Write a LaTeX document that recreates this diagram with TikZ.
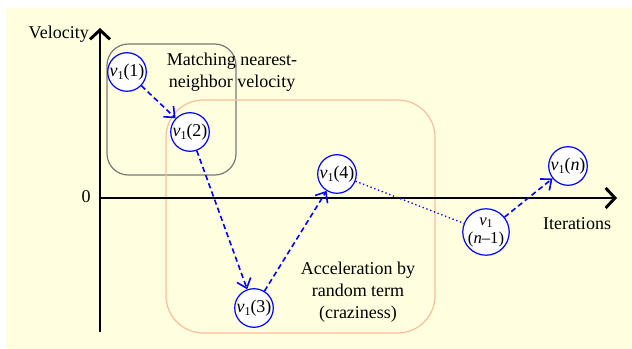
\documentclass[tikz,border=0pt]{standalone}
\usepackage{fontspec}
\setmainfont{Liberation Serif}
\usetikzlibrary{arrows.meta}
\definecolor{bgyellow}{RGB}{255,255,224}
\definecolor{peach}{RGB}{247,192,155}
\definecolor{boxgray}{RGB}{120,120,120}
\newcommand\vv{\textit{v}\raisebox{-0.35ex}{\fontsize{9}{9}\selectfont 1}}
\begin{document}
\begin{tikzpicture}[x=0.75pt,y=-0.75pt,
  vnode/.style={circle,draw=blue,fill=white,line width=0.9pt,minimum size=27.5pt,inner sep=0pt,font=\fontsize{13.5}{14}\selectfont},
  move/.style={blue,line width=1.2pt,dash pattern=on 4pt off 2.5pt,-{Straight Barb[length=6.5pt,width=11pt]}},
  dots/.style={blue,line width=1pt,dotted},
  axis/.style={line width=2.2pt,-{Straight Barb[length=7pt,width=15pt]}},
  lbl/.style={font=\fontsize{13.5}{16.5}\selectfont,align=center,inner sep=0pt}]
\useasboundingbox (0,0) rectangle (632,349);
\fill[bgyellow] (6,8) rectangle (632,349);
% boxes
\draw[boxgray,line width=0.9pt,rounded corners=16pt] (107,44) rectangle (236,175);
\draw[peach,line width=0.9pt,rounded corners=28pt] (166,100) rectangle (435,333);
% axes
\coordinate (ybot) at (100,332);
\coordinate (ytop) at (100,28);
\coordinate (xo) at (100,198);
\coordinate (xend) at (617,198);
\draw[axis] (ybot) -- (ytop);
\draw[axis] (xo) -- (xend);
% nodes
\node[vnode] (n1) at (127,72) {\vv(1)};
\node[vnode] (n2) at (190,132) {\vv(2)};
\node[vnode] (n3) at (254,308) {\vv(3)};
\node[vnode] (n4) at (337,174) {\vv(4)};
\node[vnode,align=center,font=\fontsize{12.5}{13.5}\selectfont] (nm) at (486,232) {\vv\\(\textit{n}–1)};
\node[vnode] (nn) at (568,166) {\vv(\textit{n})};
% connectors
\draw[move] (n1) -- (n2);
\draw[move] (n2) -- (n3);
\draw[move] (n3) -- (n4);
\draw[dots] (n4) -- (nm);
\draw[move] (nm) -- (nn);
% labels
\node[lbl,anchor=east] (vel) at (89,34) {Velocity};
\node[lbl] (zero) at (86,197) {0};
\node[lbl] (iter) at (577,224) {Iterations};
\node[lbl] (match) at (232,72) {Matching nearest-\\neighbor velocity};
\node[lbl] (accel) at (358,292) {Acceleration by\\random term\\(craziness)};
\end{tikzpicture}
\end{document}
